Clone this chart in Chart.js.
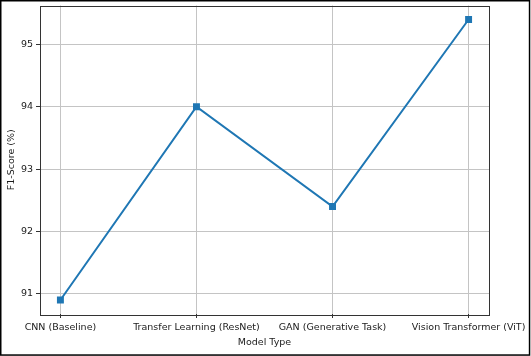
<!DOCTYPE html>
<html><head><meta charset="utf-8">
<script src="https://cdn.jsdelivr.net/npm/chart.js@4"></script>
<style>html,body{margin:0;padding:0;background:#fff}#wrap{width:531px;height:356px;position:relative}</style>
</head><body><div id="wrap"><canvas id="c" width="531" height="356"></canvas></div>
<script>
const categories = ["CNN (Baseline)", "Transfer Learning (ResNet)", "GAN (Generative Task)", "Vision Transformer (ViT)"];
const f1Scores = [90.9, 94.0, 92.4, 95.4];
const yTicks = [91, 92, 93, 94, 95];

const FONT = "'DejaVu Sans', sans-serif";
const frame = {
  id: 'frame',
  afterDraw(chart) {
    const ctx = chart.ctx;
    ctx.save();
    ctx.strokeStyle = '#000';
    ctx.lineWidth = 1.5;
    ctx.strokeRect(0.75, 0.75, 528.8, 354.3);
    const a = chart.chartArea;
    ctx.strokeStyle = '#333';
    ctx.lineWidth = 1;
    ctx.strokeRect(Math.round(a.left) + 0.5, Math.round(a.top) + 0.5, Math.round(a.right - a.left), Math.round(a.bottom - a.top));
    ctx.restore();
  }
};

new Chart(document.getElementById('c'), {
  type: 'line',
  data: {
    datasets: [{
      data: f1Scores.map((v, i) => ({x: i, y: v})),
      borderColor: '#1f77b4',
      backgroundColor: '#1f77b4',
      borderWidth: 2,
      pointStyle: 'rect',
      pointRadius: 3.5,
      pointHoverRadius: 3.5,
      tension: 0
    }]
  },
  options: {
    responsive: false,
    animation: false,
    events: [],
    layout: {padding: {left: 0, right: 42, top: 2, bottom: 0}},
    plugins: {legend: {display: false}, tooltip: {enabled: false}},
    scales: {
      x: {
        type: 'linear', min: -0.15, max: 3.15,
        afterBuildTicks(s) { s.ticks = categories.map((_, i) => ({value: i})); },
        afterFit(s) { s.height = 42; s.paddingLeft = 0; s.paddingRight = 0; },
        ticks: {
          callback: (v) => categories[v],
          font: {family: FONT, size: 9.5}, color: '#1a1a1a', padding: 4, maxRotation: 0, autoSkip: false
        },
        grid: {color: '#c4c4c4', lineWidth: 1, tickLength: 4, tickColor: '#333', drawTicks: true},
        border: {display: false},
        title: {display: true, text: 'Model Type', font: {family: FONT, size: 9.5}, color: '#1a1a1a', padding: {top: 2, bottom: 8}}
      },
      y: {
        type: 'linear', min: 90.675, max: 95.625,
        afterBuildTicks(s) { s.ticks = yTicks.map(v => ({value: v})); },
        afterFit(s) { s.width = 40; s.paddingTop = 0; s.paddingBottom = 0; },
        ticks: {font: {family: FONT, size: 9.5}, color: '#1a1a1a', padding: 3},
        grid: {color: '#c4c4c4', lineWidth: 1, tickLength: 4, tickColor: '#333'},
        border: {display: false},
        title: {display: true, text: 'F1-Score (%)', font: {family: FONT, size: 9.5}, color: '#1a1a1a', padding: {top: 6, bottom: 0}}
      }
    }
  },
  plugins: [frame]
});
</script></body></html>
